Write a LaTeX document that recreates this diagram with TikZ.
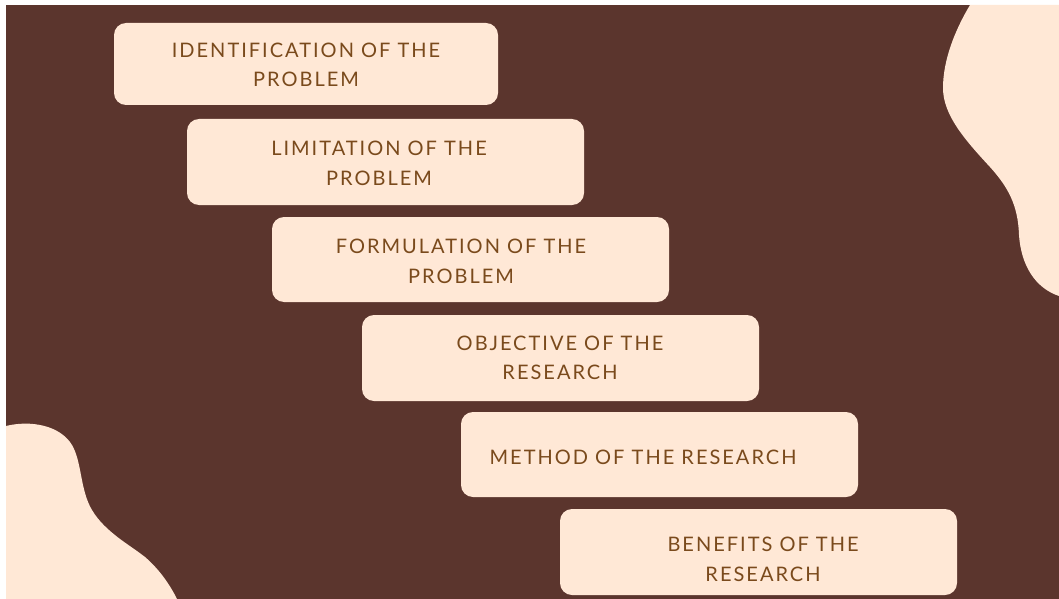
\documentclass[tikz,border=0pt]{standalone}
\usepackage{fontspec}
\newfontfamily\boxfont[LetterSpace=10]{Lato}
\definecolor{bgbrown}{HTML}{5B352D}
\definecolor{cream}{HTML}{FFE8D6}
\definecolor{txtbrown}{HTML}{7A4A1C}
\tikzset{
  stepbox/.style={fill=cream, rounded corners=12pt, draw=none},
  steptext/.style={anchor=base, text=txtbrown, inner sep=0pt, font=\boxfont\fontsize{20}{24}\selectfont}
}
\begin{document}
\begin{tikzpicture}[x=1pt,y=-1pt]
\useasboundingbox (0,0) rectangle (1059,599);
\fill[white] (0,0) rectangle (1059,599);
\fill[bgbrown] (6,5) rectangle (1059,599);
% top-right blob
\fill[cream] (970,5) .. controls (955,30) and (943,60) .. (943,88)
  .. controls (943,115) and (965,140) .. (990,167)
  .. controls (1008,187) and (1018,205) .. (1019,235)
  .. controls (1021,265) and (1035,288) .. (1059,296)
  -- (1059,5) -- cycle;
% bottom-left blob
\fill[cream] (6,426) .. controls (30,420) and (60,425) .. (72,445)
  .. controls (82,462) and (80,490) .. (92,510)
  .. controls (105,532) and (130,545) .. (145,557)
  .. controls (160,570) and (170,585) .. (177,599)
  -- (6,599) -- cycle;
% boxes
\path[stepbox] (114,23) rectangle (498,105);
\path[stepbox] (187,119) rectangle (584,205);
\path[stepbox] (272,217) rectangle (669,302);
\path[stepbox] (362,315) rectangle (759,401);
\path[stepbox] (461,412) rectangle (858,497);
\path[stepbox] (560,509) rectangle (957,595);
% texts
\node[steptext] (t1a) at (306,57.5) {IDENTIFICATION OF THE};
\node[steptext] (t1b) at (306,87) {PROBLEM};
\node[steptext] (t2a) at (379,155.7) {LIMITATION OF THE};
\node[steptext] (t2b) at (379,185) {PROBLEM};
\node[steptext] (t3a) at (461,253.7) {FORMULATION OF THE};
\node[steptext] (t3b) at (461,283) {PROBLEM};
\node[steptext] (t4a) at (560,350) {OBJECTIVE OF THE};
\node[steptext] (t4b) at (560,379.3) {RESEARCH};
\node[steptext] (t5a) at (643,464.3) {METHOD OF THE RESEARCH};
\node[steptext] (t6a) at (763,551.7) {BENEFITS OF THE};
\node[steptext] (t6b) at (763,581.7) {RESEARCH};
\end{tikzpicture}
\end{document}
